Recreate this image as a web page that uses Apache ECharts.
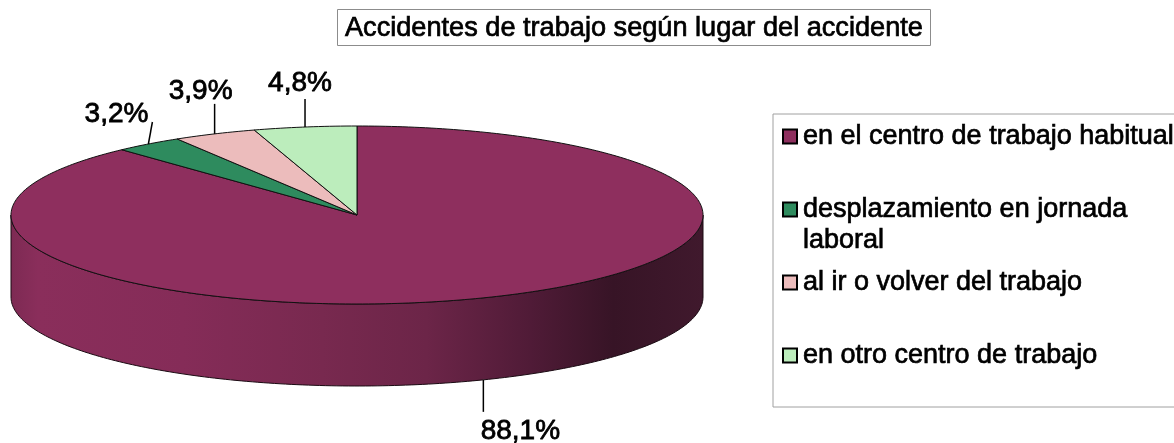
<!DOCTYPE html>
<html>
<head>
<meta charset="utf-8">
<style>
html, body { margin: 0; padding: 0; background: #fff; }
#chart { width: 1174px; height: 443px; }
</style>
</head>
<body>
<div id="chart"></div>
<script src="https://cdn.jsdelivr.net/npm/echarts@6/dist/echarts.min.js"></script>
<script>
const titleText = 'Accidentes de trabajo según lugar del accidente'
const categories = ['en el centro de trabajo habitual', 'desplazamiento en jornada laboral', 'al ir o volver del trabajo', 'en otro centro de trabajo']
const values = [88.1, 3.2, 3.9, 4.8]
const valueLabels = ['88,1%', '3,2%', '3,9%', '4,8%']
const colors = ['#8e2f5e', '#2e8b5e', '#ecbcbc', '#bcedbc']

const total = values.reduce((a, b) => a + b, 0)
const fontName = '"Liberation Sans", Arial, sans-serif'

// pie geometry (tilted disc)
const cx = 357, cy = 215, rx = 346, ry = 89, depth = 82

// angle is clockwise from the top of the disc
function pt (a, dy) {
  return [cx + rx * Math.sin(a), cy - ry * Math.cos(a) + (dy || 0)]
}
function arcPoints (a0, a1, dy) {
  const n = Math.max(2, Math.ceil(Math.abs(a1 - a0) * 60))
  const pts = []
  for (let i = 0; i <= n; i++) pts.push(pt(a0 + (a1 - a0) * i / n, dy))
  return pts
}

// leader lines: [start offset along the rim, end offset]
const leaders = [
  { dx: 0, dy: 32, anchorDepth: depth, align: 'center', tx: 37, ty: 51 },
  { dx: 4, dy: -22, anchorDepth: 0, align: 'right', tx: 0, ty: -30 },
  { dx: 0, dy: -30, anchorDepth: 0, align: 'center', tx: -14, ty: -43 },
  { dx: 0, dy: -28, anchorDepth: 0, align: 'center', tx: -5, ty: -44 }
]

function renderSlice (params, api) {
  const i = params.seriesIndex
  let start = 0
  for (let k = 0; k < i; k++) start += values[k]
  // slices run clockwise from the top
  const a0 = start / total * Math.PI * 2
  const a1 = (start + api.value(0)) / total * Math.PI * 2
  const mid = (a0 + a1) / 2
  const children = []

  if (i === 0) {
    const side = arcPoints(Math.PI * 0.5, Math.PI * 1.5, 0).concat(arcPoints(Math.PI * 1.5, Math.PI * 0.5, depth))
    children.push({
      type: 'polygon',
      shape: { points: side },
      style: {
        stroke: '#1a0a12',
        lineWidth: 1,
        fill: {
          type: 'linear', x: 0, y: 0, x2: 1, y2: 0,
          colorStops: [
            { offset: 0, color: '#7d2a53' },
            { offset: 0.04, color: '#8a2e5b' },
            { offset: 0.25, color: '#852c58' },
            { offset: 0.45, color: '#78294f' },
            { offset: 0.6, color: '#6c2548' },
            { offset: 0.75, color: '#501b37' },
            { offset: 0.87, color: '#371426' },
            { offset: 1, color: '#40192d' }
          ]
        }
      }
    })
  }

  children.push({
    type: 'polygon',
    shape: { points: arcPoints(a0, a1).concat([[cx, cy]]) },
    style: { fill: colors[i], stroke: '#111', lineWidth: 1 }
  })

  const l = leaders[i]
  const p = pt(mid, l.anchorDepth)
  children.push({
    type: 'line',
    shape: { x1: p[0], y1: p[1], x2: p[0] + l.dx, y2: p[1] + l.dy },
    style: { stroke: '#000', lineWidth: 1.5 }
  })
  children.push({
    type: 'text',
    x: p[0] + l.tx,
    y: p[1] + l.ty,
    style: {
      text: valueLabels[i],
      font: '28px ' + fontName,
      fill: '#000',
      stroke: '#000',
      lineWidth: 0.8,
      align: l.align,
      verticalAlign: 'middle'
    }
  })
  return { type: 'group', children: children }
}

const myChart = echarts.init(document.getElementById('chart'), null, { renderer: 'canvas' })

myChart.setOption({
  animation: false,
  backgroundColor: '#fff',
  title: {
    text: titleText,
    left: 338,
    top: 10,
    padding: [5, 8, 3, 7],
    borderColor: '#8c8c8c',
    borderWidth: 1,
    textStyle: {
      fontFamily: fontName,
      fontWeight: 'normal',
      fontSize: 27.15,
      lineHeight: 27,
      color: '#000',
      textBorderColor: '#000',
      textBorderWidth: 0.7
    }
  },
  legend: {
    left: 782,
    top: 90,
    orient: 'vertical',
    padding: 0,
    itemGap: -20,
    itemWidth: 14,
    itemHeight: 14,
    icon: 'rect',
    selectedMode: false,
    data: categories,
    itemStyle: { borderColor: '#000', borderWidth: 2 },
    formatter: function (name) {
      // line up the first row with the marker, second row below it
      if (name === categories[1]) return ' \ndesplazamiento en jornada\nlaboral'
      return ' \n' + name + '\n '
    },
    textStyle: {
      fontFamily: fontName,
      fontSize: 27,
      lineHeight: 31,
      color: '#000',
      padding: [0, 0, 0, 1],
      textBorderColor: '#000',
      textBorderWidth: 0.7
    }
  },
  graphic: [{
    type: 'rect',
    silent: true,
    z: -1,
    shape: { x: 773, y: 114, width: 410, height: 293 },
    style: { fill: '#fff', stroke: '#a0a0a0', lineWidth: 1 }
  }],
  series: categories.map((name, i) => ({
    type: 'custom',
    name: name,
    coordinateSystem: 'none',
    renderItem: renderSlice,
    itemStyle: { color: colors[i] },
    silent: true,
    z: i === 0 ? 1 : 2,
    data: [[values[i]]]
  }))
})
</script>
</body>
</html>
